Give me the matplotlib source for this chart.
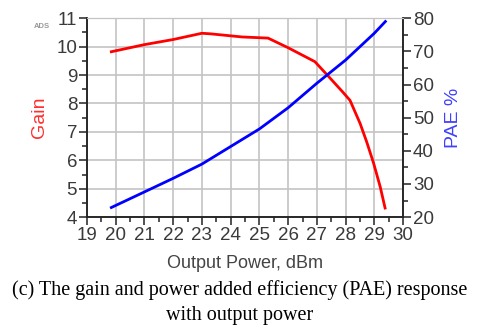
import matplotlib
matplotlib.use("Agg")
import matplotlib.pyplot as plt
from matplotlib.ticker import MultipleLocator

gain_x = [19.85, 21.0, 22.0, 23.0, 23.3, 23.9, 24.4, 25.3, 26.0, 26.93, 27.45, 27.9, 28.15,
          28.5, 28.73, 28.97, 29.2, 29.37]
gain = [9.82, 10.07, 10.25, 10.47, 10.45, 10.39, 10.34, 10.30, 9.96, 9.47, 8.90, 8.40, 8.11,
        7.30, 6.65, 5.90, 5.07, 4.32]

pae_x = [19.85, 21.0, 22.0, 23.0, 24.0, 25.0, 26.0, 27.0, 28.0, 29.0, 29.38]
pae = [22.9, 27.6, 31.7, 36.0, 41.3, 46.6, 53.0, 60.4, 67.4, 75.5, 79.0]

x_ticks = list(range(19, 31))
gain_ticks = list(range(4, 12))
pae_ticks = list(range(20, 81, 10))

plt.rcParams['font.family'] = ['Liberation Sans', 'DejaVu Sans']

fig = plt.figure(figsize=(4.8, 3.31), dpi=100)
ax = fig.add_axes([0.181, 0.344, 0.659, 0.601])
ax2 = ax.twinx()

tick_col = '#3a3a3a'
ax.set_xlim(19, 30)
ax.set_ylim(4, 11)
ax2.set_ylim(20, 80)
ax.set_xticks(x_ticks)
ax.set_yticks(gain_ticks)
ax2.set_yticks(pae_ticks)
ax.xaxis.set_minor_locator(MultipleLocator(0.5))
ax.yaxis.set_minor_locator(MultipleLocator(0.5))
ax2.yaxis.set_minor_locator(MultipleLocator(5))

ax.grid(True, which='major', color='#c4c4c4', lw=1.2)
ax.set_axisbelow(True)

for a in (ax, ax2):
    a.tick_params(which='major', length=6, width=1.1, color='#222222', labelsize=13.5,
                  labelcolor=tick_col, pad=1)
    a.tick_params(which='minor', length=3.5, width=1.1, color='#222222')
    for s in ('left', 'bottom', 'right'):
        a.spines[s].set_color('#222222')
        a.spines[s].set_linewidth(1.1)
    a.spines['top'].set_color('#c4c4c4')

ax.plot(gain_x, gain, color='#ff0000', lw=2)
ax2.plot(pae_x, pae, color='#0000ff', lw=2)

ax.set_ylabel('Gain', color='#ff3030', fontsize=14, labelpad=6)
ax2.set_ylabel('PAE %', color='#4040ff', fontsize=14, labelpad=8)
ax.set_xlabel('Output Power, dBm', color='#444444', fontsize=13, labelpad=8)

fig.text(0.088, 0.92, 'ADS', fontsize=5.5, fontweight='bold', color='#999999', ha='center', va='center')

fig.text(0.5, 0.124, '(c) The gain and power added efficiency (PAE) response',
         family='Liberation Serif', fontsize=14.5, ha='center', va='center', color='black')
fig.text(0.5, 0.048, 'with output power',
         family='Liberation Serif', fontsize=14.5, ha='center', va='center', color='black')

fig.savefig('out.png', dpi=100)
